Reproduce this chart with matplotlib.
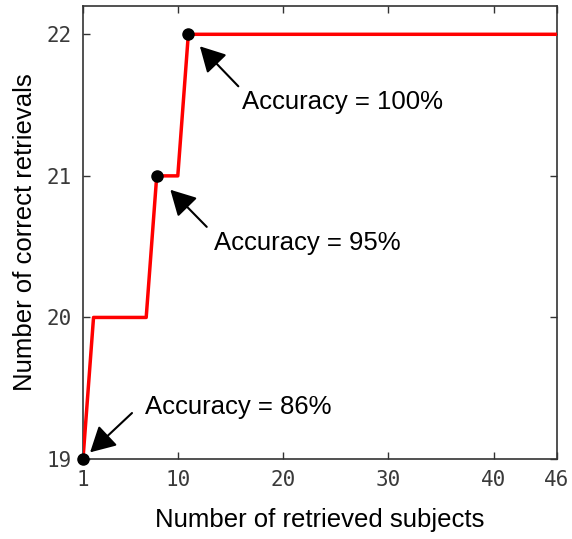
import matplotlib
matplotlib.use('Agg')
import matplotlib.pyplot as plt

# retrieval curve (step-like)
x_vals = [1, 2, 7, 8, 10, 11, 46]
y_vals = [19, 20, 20, 21, 21, 22, 22]

# highlighted points and their labels
pt_x = [1, 8, 11]
pt_y = [19, 21, 22]
pt_labels = ['Accuracy = 86%', 'Accuracy = 95%', 'Accuracy = 100%']

x_ticks = [1, 10, 20, 30, 40, 46]
y_ticks = [19, 20, 21, 22]

fig = plt.figure(figsize=(5.72, 5.39), dpi=100)
ax = fig.add_axes([0.1451, 0.1484, 0.8287, 0.8405])

ax.plot(x_vals, y_vals, color='#ff0000', lw=2.5, zorder=3)
ax.plot(pt_x, pt_y, 'o', color='black', ms=8, zorder=4, clip_on=False)

# (tail offset, text offset, shrink at head) in pixels
arrow_cfg = [((49, 46), (62, 52), 7),
             ((50, -51), (57, -67), 14),
             ((50, -52), (54, -68), 12)]

for xi, yi, lab, (tail, txt, shr) in zip(pt_x, pt_y, pt_labels, arrow_cfg):
    ax.annotate('', xy=(xi, yi), xytext=tail, textcoords='offset pixels',
                arrowprops=dict(arrowstyle='-|>,head_length=0.55,head_width=0.3',
                                color='black', lw=1.5,
                                mutation_scale=28, shrinkA=0, shrinkB=shr),
                zorder=5)
    ax.annotate(lab, xy=(xi, yi), xytext=txt, textcoords='offset pixels',
                ha='left', va='center', fontsize=18.5,
                family='Liberation Sans', color='black')

ax.set_xlim(1, 46)
ax.set_ylim(19, 22.2)
ax.set_xticks(x_ticks)
ax.set_yticks(y_ticks)
ax.tick_params(direction='in', length=5, width=1, top=True, right=True,
               labelsize=15, labelcolor='#3a3a3a', color='#333333', pad=8)
for lab in ax.get_xticklabels() + ax.get_yticklabels():
    lab.set_family('DejaVu Sans Mono')
for sp in ax.spines.values():
    sp.set_color('#333333')
    sp.set_linewidth(1.2)

ax.set_xlabel('Number of retrieved subjects', fontsize=18.5,
              family='Liberation Sans', labelpad=13)
ax.set_ylabel('Number of correct retrievals', fontsize=18.5,
              family='Liberation Sans', labelpad=7)

fig.savefig('out.png', dpi=100)
